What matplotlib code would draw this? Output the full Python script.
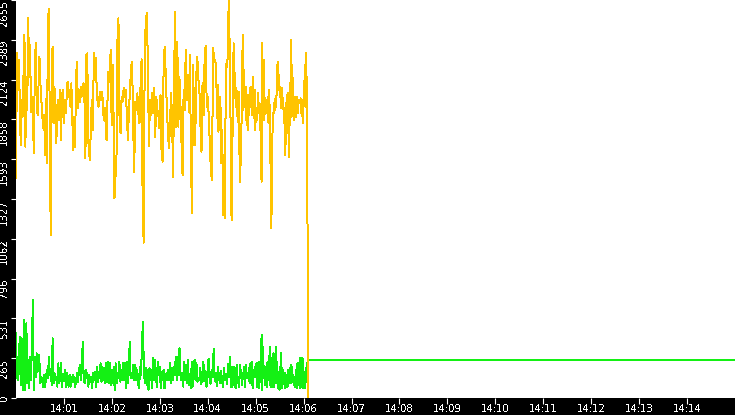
import numpy as np
import matplotlib
matplotlib.use('Agg')
import matplotlib.pyplot as plt
from matplotlib.ticker import FixedLocator, FixedFormatter

plt.rcParams['text.antialiased'] = False

# ---------------- data ----------------
# time is in seconds after 14:00:00
y_max = 2655
y_tick_labels = ['0', '265', '531', '796', '1062', '1327', '1593', '1858', '2124', '2389', '2655']
x_tick_labels = ['14:01', '14:02', '14:03', '14:04', '14:05', '14:06', '14:07',
                 '14:08', '14:09', '14:10', '14:11', '14:12', '14:13', '14:14']
x_span = (0, 900)  # 14:00 .. 14:15

# orange series, three consecutive time windows
orange_a_window = (0, 125.6)
orange_a = [1465, 2299, 2055, 2255, 1988, 1688, 1988, 1877, 2143, 2421, 1676, 2143, 1921, 2533,
            2143, 2355, 1910, 2010, 1877, 1632, 2155, 2366, 2010, 1888, 2077, 2277, 2099, 1988,
            1888, 1799, 1888, 1621, 1997, 1565, 2510, 2593, 1832, 1087, 2177, 2344, 1832, 2077,
            1877, 1699, 1943, 1988, 1854, 2055, 1721, 2010, 2055, 1832, 1988, 1899, 2010, 2110,
            2010, 2055, 1943, 2099, 1877, 1654, 1877, 1676, 2132, 2244, 1932, 2021, 1977, 2077,
            2010, 2055, 2099, 1988, 1599, 2288, 2299, 1732, 1621, 1587, 1888, 1988, 1788, 2299,
            2232, 2266, 2077, 1977, 1943, 2010, 2043, 1988, 2043, 1899, 1854, 1932, 1732, 1721,
            2177, 2110, 2199, 2321, 1821, 2221, 1899, 1332, 1487]
orange_b_window = (125.6, 250.6)
orange_b = [1483, 2377, 2533, 1888, 1765, 2010, 1977, 2066, 2010, 2055, 1888, 1721, 1921, 2055,
            2210, 2244, 1821, 1510, 1977, 1921, 2032, 1899, 1832, 2077, 2259, 1309, 1036, 2321,
            2510, 2570, 2232, 1683, 1988, 1888, 2032, 1899, 2066, 1743, 2010, 1921, 1888, 1799,
            2021, 1643, 1576, 2232, 2344, 2155, 1943, 1788, 1665, 1799, 2032, 1877, 1476, 2188,
            2577, 1810, 2377, 1810, 2143, 1954, 1699, 1487, 2055, 1921, 2321, 1988, 2155, 1910,
            2288, 1576, 1232, 2221, 1854, 1688, 2143, 2277, 2132, 2055, 1821, 1643, 2099, 1888,
            2277, 2348, 1943, 2010, 1865, 1676, 1499, 1454, 2333, 2266, 2244]
orange_c_window = (250.6, 365.0)
orange_c = [2221, 1865, 2088, 1777, 1910, 1788, 2010, 1565, 1788, 1610, 1221, 1621, 1198, 1688,
            2199, 2244, 2210, 2455, 2655, 2421, 2099, 1610, 1187, 1565, 2055, 2366, 1999, 2166,
            1943, 2066, 1921, 1843, 2043, 1743, 1443, 1576, 1743, 2099, 2421, 1921, 2188, 1943,
            2077, 1854, 1988, 1788, 2021, 1888, 2066, 1943, 2077, 1888, 2010, 2143, 1865, 2055,
            1788, 1932, 1854, 1888, 2032, 1899, 1966, 1921, 1643, 1443, 2366, 1921, 2255, 1854,
            1999, 1899, 1988, 1954, 2010, 1832, 2055, 1821, 1510, 1132, 1465, 1899, 1888, 1966,
            1921, 1999, 1943, 2110, 2244, 2099, 2155, 2010, 2077, 1932, 2066, 1943, 1999, 1832,
            1932, 1621, 1832, 2021, 1810, 2032, 1610, 2010, 1821, 2388, 1877, 2221, 1988, 1854,
            1943, 2010, 1877, 1943, 2010, 1899, 1988, 1988, 1966, 1999, 1899, 1988, 1832, 1977,
            1977, 2221, 1943, 2299, 1943, 991]
orange_end_time = 366.0
orange_end_value = 0

# green series
green_a_window = (0, 229.4)
green_a = [432, 142, 120, 254, 409, 87, 398, 54, 365, 521, 54, 498, 98, 254, 65, 276, 120, 387,
           654, 54, 276, 142, 298, 176, 287, 231, 98, 142, 109, 76, 154, 76, 142, 187, 131, 276,
           154, 187, 87, 398, 98, 165, 120, 142, 76, 231, 98, 142, 231, 76, 154, 120, 187, 76,
           165, 120, 76, 154, 76, 142, 109, 154, 109, 76, 120, 165, 109, 187, 220, 120, 187, 376,
           142, 98, 187, 131, 165, 76, 154, 109, 142, 65, 165, 120, 176, 76, 209, 109, 176, 131,
           231, 109, 209, 120, 198, 98, 231, 109, 243, 98, 231, 87, 187, 98, 209, 54, 231, 98,
           165, 131, 243, 109, 187, 120, 231, 120, 231, 65, 243, 98, 176, 376, 131, 154, 131, 220,
           120, 220, 120, 187, 98, 65, 209, 154, 343, 509, 209, 98, 198, 87, 187, 54, 198, 120,
           187, 65, 265, 120, 254, 131, 76, 243, 154, 209, 65, 176, 120, 187, 65, 142, 165, 120,
           187, 120, 231, 98, 198, 120, 209, 154, 276, 120, 276, 154, 332, 165, 120, 165, 76, 243,
           120, 220, 98, 254, 87, 142, 65, 243, 76, 176, 254, 120, 231, 109, 131]
green_b_window = (229.4, 268.1)
green_b = [120, 200, 90, 160, 240, 110, 180, 75, 150, 260, 130, 95, 190, 140, 330, 110, 170, 80,
           210, 150, 100, 180, 130, 70, 200, 120, 160, 90, 230, 140]
green_c_window = (268.1, 364.4)
green_c = [276, 76, 209, 76, 131, 209, 76, 198, 65, 220, 98, 142, 76, 220, 131, 187, 87, 165,
           131, 209, 76, 220, 131, 165, 142, 198, 98, 231, 120, 243, 65, 187, 142, 209, 142, 231,
           76, 165, 243, 65, 243, 109, 421, 54, 343, 142, 209, 87, 209, 76, 243, 120, 176, 343,
           76, 265, 76, 176, 298, 76, 187, 343, 98, 243, 65, 165, 54, 154, 298, 65, 198, 98, 165,
           65, 165, 76, 154, 76, 187, 98, 198, 98, 220, 120, 154, 87, 142, 76, 187, 65, 231, 87,
           131, 265, 65, 265, 76, 265, 65, 176, 65, 198, 109, 231]
green_tail_times = [366.0, 900.0]
green_tail = [251, 251]

orange_color = '#FFC400'
green_color = '#14F014'


def window_times(window, n, endpoint=False):
    return np.linspace(window[0], window[1], n, endpoint=endpoint)


orange_t = np.concatenate([window_times(orange_a_window, len(orange_a)),
                           window_times(orange_b_window, len(orange_b)),
                           window_times(orange_c_window, len(orange_c), True),
                           [orange_end_time]])
orange_v = np.concatenate([orange_a, orange_b, orange_c, [orange_end_value]])

green_t = np.concatenate([window_times(green_a_window, len(green_a)),
                          window_times(green_b_window, len(green_b)),
                          window_times(green_c_window, len(green_c), True),
                          green_tail_times])
green_v = np.concatenate([green_a, green_b, green_c, green_tail])

# ---------------- figure ----------------
W, H = 735, 415
fig = plt.figure(figsize=(W / 100, H / 100), dpi=100, facecolor='black')
ax = fig.add_axes([16 / W, 17 / H, (W - 16) / W, (H - 17) / H])
ax.set_facecolor('white')

ax.plot(green_t, green_v, color=green_color, lw=0.72, antialiased=False, zorder=2)
ax.plot(orange_t, orange_v, color=orange_color, lw=0.72, antialiased=False, zorder=3)

ax.set_xlim(*x_span)
ax.set_ylim(0, y_max)

for s in ax.spines.values():
    s.set_visible(False)

y_pos = np.arange(len(y_tick_labels)) * (y_max / (len(y_tick_labels) - 1))
ax.yaxis.set_major_locator(FixedLocator(y_pos))
ax.yaxis.set_major_formatter(FixedFormatter(y_tick_labels))
x_pos = np.arange(1, len(x_tick_labels) + 1) * 60.0
ax.xaxis.set_major_locator(FixedLocator(x_pos))
ax.xaxis.set_major_formatter(FixedFormatter(x_tick_labels))

ax.tick_params(axis='y', colors='white', direction='out', length=3.6, width=0.8,
               pad=1.2, labelsize=7.3, labelrotation=90)
ax.tick_params(axis='x', colors='white', direction='out', length=4.3, width=0.8,
               pad=0.3, labelsize=7.3)
for i, lab in enumerate(ax.get_yticklabels()):
    lab.set_va('center' if i == 0 else 'top')
    lab.set_ha('right')

fig.savefig('out.png', dpi=100, facecolor='black')
